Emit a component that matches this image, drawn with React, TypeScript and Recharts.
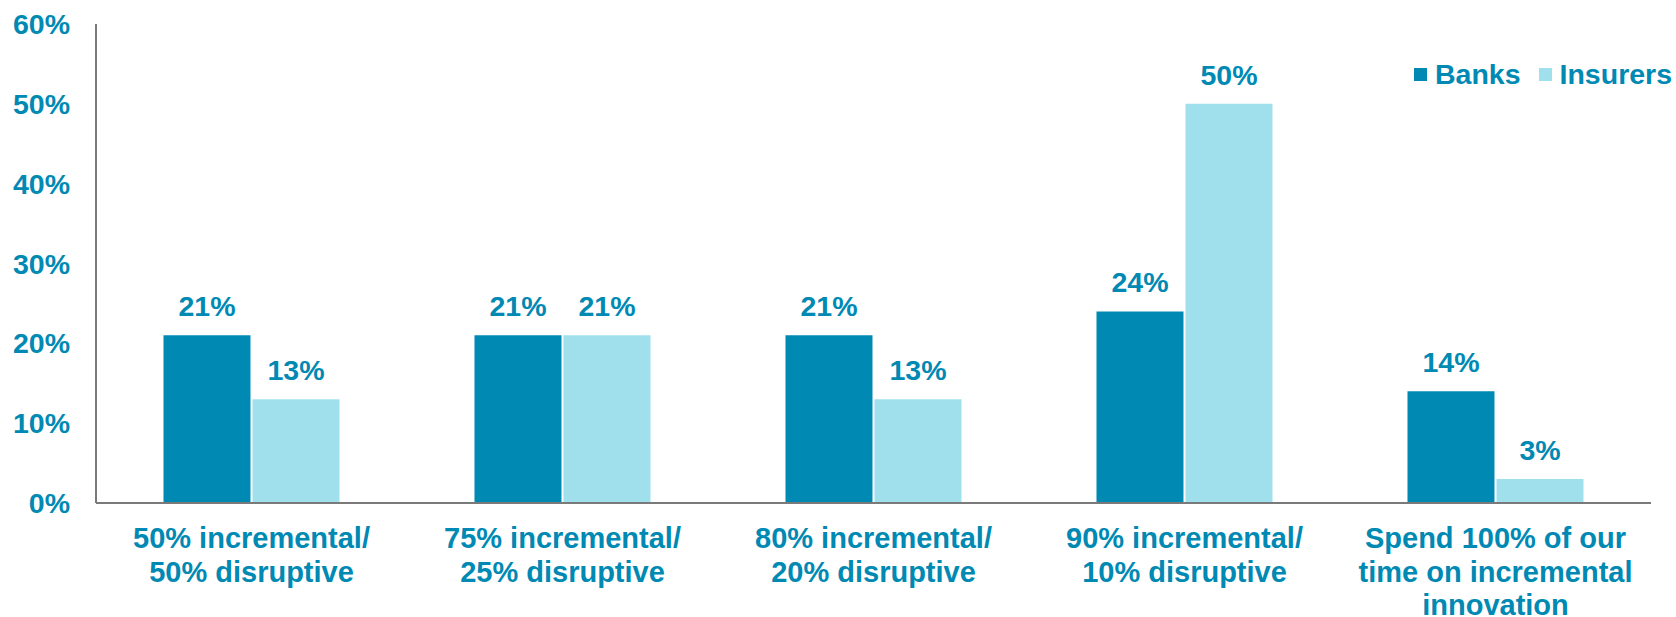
import React from "react";
import {
  BarChart,
  Bar,
  XAxis,
  YAxis,
  Legend,
  LabelList,
} from "recharts";

const categories = [
  "50% incremental/\n50% disruptive",
  "75% incremental/\n25% disruptive",
  "80% incremental/\n20% disruptive",
  "90% incremental/\n10% disruptive",
  "Spend 100% of our\ntime on incremental\ninnovation",
];
const banks = [21, 21, 21, 24, 14];
const insurers = [13, 21, 13, 50, 3];
const yTicks = [0, 10, 20, 30, 40, 50, 60];

const BANKS_COLOR = "#0089B3";
const INSURERS_COLOR = "#A0E0EC";
const TEXT_COLOR = "#0089B3";
const AXIS_COLOR = "#7a7a7a";
const FONT = '"Liberation Sans", Arial, sans-serif';

const data = categories.map((name, i) => ({
  name,
  Banks: banks[i],
  Insurers: insurers[i],
}));

function CategoryTick(props: any) {
  const { x, y, payload } = props;
  const lines = String(payload.value).split("\n");
  return (
    <text
      x={x}
      y={y}
      textAnchor="middle"
      fill={TEXT_COLOR}
      fontFamily={FONT}
      fontWeight="bold"
      fontSize={29}
    >
      {lines.map((line, i) => (
        <tspan key={i} x={x} dy={i === 0 ? 45 : 33.5}>
          {line}
        </tspan>
      ))}
    </text>
  );
}

function LegendContent() {
  const items = [
    { label: "Banks", color: BANKS_COLOR },
    { label: "Insurers", color: INSURERS_COLOR },
  ];
  return (
    <div style={{ display: "flex", alignItems: "center" }}>
      {items.map((it, i) => (
        <div
          key={it.label}
          style={{
            display: "flex",
            alignItems: "center",
            marginLeft: i === 0 ? 0 : 18,
          }}
        >
          <span
            style={{
              width: 13,
              height: 13,
              background: it.color,
              display: "inline-block",
              marginRight: 8,
            }}
          />
          <span
            style={{
              color: TEXT_COLOR,
              fontFamily: FONT,
              fontWeight: "bold",
              fontSize: 28.5,
              lineHeight: "30px",
            }}
          >
            {it.label}
          </span>
        </div>
      ))}
    </div>
  );
}

export default function App() {
  return (
    <div style={{ position: "absolute", left: 0, top: 0, background: "#fff" }}>
      <BarChart
        width={1676}
        height={617}
        data={data}
        margin={{ top: 24, right: 25, bottom: 0, left: 0 }}
        barCategoryGap="21.7%"
        barGap={2}
      >
        <XAxis
          dataKey="name"
          interval={0}
          height={114}
          tickLine={false}
          tickSize={0}
          tickMargin={0}
          axisLine={{ stroke: AXIS_COLOR, strokeWidth: 2 }}
          tick={<CategoryTick />}
        />
        <YAxis
          width={96}
          domain={[0, 60]}
          ticks={yTicks}
          interval={0}
          tickFormatter={(v: number) => `${v}%`}
          tickLine={false}
          tickSize={0}
          tickMargin={26}
          axisLine={{ stroke: AXIS_COLOR, strokeWidth: 2 }}
          tick={{
            fill: TEXT_COLOR,
            fontFamily: FONT,
            fontWeight: "bold",
            fontSize: 28.5,
          }}
        />
        <Legend
          layout="horizontal"
          verticalAlign="middle"
          align="center"
          content={<LegendContent />}
          wrapperStyle={{ left: 1414, top: 59, width: "auto" }}
        />
        <Bar dataKey="Banks" fill={BANKS_COLOR} isAnimationActive={false}>
          <LabelList
            dataKey="Banks"
            position="top"
            offset={19}
            formatter={(v: any) => `${v}%`}
            fill={TEXT_COLOR}
            fontFamily={FONT}
            fontWeight="bold"
            fontSize={28.5}
          />
        </Bar>
        <Bar dataKey="Insurers" fill={INSURERS_COLOR} isAnimationActive={false}>
          <LabelList
            dataKey="Insurers"
            position="top"
            offset={19}
            formatter={(v: any) => `${v}%`}
            fill={TEXT_COLOR}
            fontFamily={FONT}
            fontWeight="bold"
            fontSize={28.5}
          />
        </Bar>
      </BarChart>
    </div>
  );
}
